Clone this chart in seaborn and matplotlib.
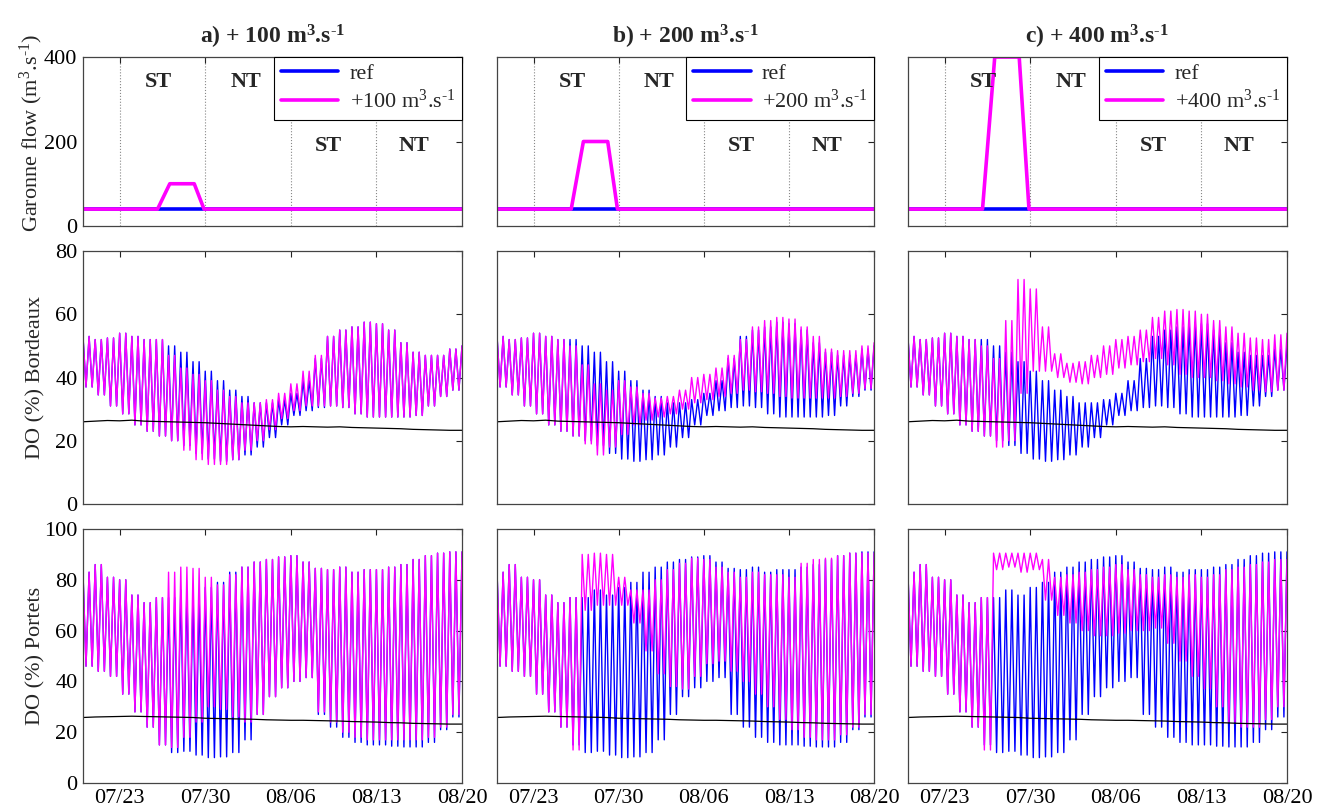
import matplotlib
matplotlib.use('Agg')
import numpy as np
import pandas as pd
import matplotlib.pyplot as plt
import seaborn as sns

# ---- data (day 0 = 07/20, day 31 = 08/20) ----
tick_days = [3, 10, 17, 24, 31]
tick_labels = ['07/23', '07/30', '08/06', '08/13', '08/20']

scenario_labels = ['a) + 100', 'b) + 200', 'c) + 400']
legend_labels = ['+100', '+200', '+400']

# Garonne flow (m3/s)
flow_days = [0, 6.1, 7.1, 9.1, 9.9, 31]
flow_ref = [40, 40, 40, 40, 40, 40]
flow_peaks = [100, 200, 400]

# Daily tidal highs / lows of DO (%) at Bordeaux
bx_ref_hi = [53, 52, 52.5, 54, 53, 52, 52, 50, 48, 45, 42, 39, 36, 34, 32, 32,
             33, 35, 39, 46, 53, 55, 56, 57.5, 57, 55, 51, 48, 47, 47, 49, 50]
bx_ref_lo = [37, 34.5, 31, 28.5, 25, 23, 21.5, 20, 18.5, 16, 14.2, 13.5, 14, 15.5, 18, 21,
             25, 28, 29.5, 30.5, 31, 30.5, 28.5, 27.5, 27.5, 27.5, 27.5, 28, 31, 34, 36, 37]
bx_a_hi = [53, 52, 52.5, 54, 53, 52, 52, 47, 43, 41, 39, 36, 34, 32, 32, 33,
           35, 38, 42, 47, 53, 55, 56, 57.5, 57, 55, 51, 48, 47, 47, 49, 50]
bx_a_lo = [37, 34.5, 31, 28.5, 25, 23, 21.5, 20, 17, 14, 12.5, 12.5, 14, 17, 20, 23.5,
           27, 29.5, 31, 31, 31, 30.5, 28.5, 27.5, 27.5, 27.5, 27.5, 28, 31, 34, 36, 37]
bx_b_hi = [53, 52, 52.5, 54, 53, 52, 50, 44, 38, 36, 39, 37, 35, 33.5, 34, 36,
           40, 41, 43, 47, 52, 56, 58, 59, 58.5, 56, 53, 49, 48.5, 48.5, 50, 51]
bx_b_lo = [37, 34.5, 31, 28.5, 25, 23, 21.5, 19, 15.5, 18, 22, 25, 26.5, 27.5, 28.5, 30,
           32, 33, 34, 35, 36, 35.5, 35, 34, 33.5, 33.5, 33.5, 33.5, 34, 35, 36.5, 37]
bx_c_hi = [53, 52, 52.5, 54, 53, 52, 50, 46, 58, 71, 68, 56, 47.5, 44.5, 45, 47,
           50, 52, 53, 55, 59, 61, 61.5, 61, 60, 58, 56, 54, 52.5, 52, 53.5, 54]
bx_c_lo = [37, 34.5, 31, 28.5, 25, 23, 21.5, 18, 20, 35, 42, 42, 40, 38.5, 38, 40,
           41, 43, 44, 45, 46, 44, 41, 40, 40, 39, 38, 37, 36, 35.5, 36, 38]
bx_black = [26, 26.2, 26.4, 26.3, 26.5, 26.2, 26.1, 26, 25.9, 25.8, 25.7, 25.5, 25.3, 25.1, 24.9, 24.7,
            24.5, 24.4, 24.5, 24.4, 24.3, 24.4, 24.2, 24.1, 24, 23.9, 23.8, 23.6, 23.5, 23.4, 23.3, 23.3]

# Daily tidal highs / lows of DO (%) at Portets
pt_ref_hi = [83, 86, 81, 80, 74, 71, 73, 73, 76, 74, 77, 79, 83, 85, 87, 88,
             89, 89.5, 87, 84.5, 84, 85, 83, 84, 84, 85, 86, 88, 89.5, 90.5, 91, 91]
pt_ref_lo = [46, 44, 42, 35, 28, 22, 15, 12, 12.5, 11, 10, 10.3, 12, 17, 27, 34,
             37.5, 40, 41.5, 27, 22, 18, 16, 15, 15, 14.5, 14.2, 14.2, 16, 21, 26, 32]
pt_a_hi = [83, 86, 81, 80, 74, 71, 73, 83, 85, 84.5, 81, 78, 82, 85, 87, 88,
           89, 89.5, 87, 84.5, 84, 85, 83, 84, 84, 85, 86, 88, 89.5, 90.5, 91, 91]
pt_a_lo = [46, 44, 42, 35, 28, 22, 15, 14, 18, 24, 30, 29, 26, 24, 27, 34,
           37.5, 40, 41.5, 28, 24, 20, 18, 17, 17, 17, 17, 17, 18, 22, 27, 32]
pt_b_hi = [83, 86, 81, 80, 74, 71, 73, 90, 90.5, 90, 81, 76, 76, 80, 84, 86.5,
           88.5, 88, 85, 83, 81, 83, 82, 82, 81, 86.5, 88, 88.5, 89.5, 90.5, 90.5, 90.5]
pt_b_lo = [46, 44, 42, 35, 28, 22, 13, 68, 70, 70, 70, 63, 52, 43, 38, 37,
           42, 47, 48, 44, 40, 35, 30, 25, 21, 18, 17, 17, 19, 22, 27, 32]
pt_c_hi = [83, 86, 81, 80, 74, 71, 73, 90.5, 90.5, 90.5, 90.5, 88, 81, 82, 83, 84,
           85, 86, 84, 82, 81, 82, 81, 82, 81, 82, 84, 85, 86, 87, 88, 88]
pt_c_lo = [46, 44, 42, 35, 28, 22, 13, 84, 85, 83, 84, 72, 66, 63, 60, 58,
           58, 59, 60, 60, 61, 55, 48, 42, 37, 30, 24, 22, 22, 25, 30, 36]
pt_black = [25.8, 26, 26.1, 26.2, 26.3, 26.2, 26.1, 26, 25.9, 25.8, 25.5, 25.4, 25.3, 25.2, 25.1, 24.9,
            24.8, 24.7, 24.7, 24.6, 24.5, 24.4, 24.2, 24.1, 24, 23.8, 23.7, 23.5, 23.4, 23.3, 23.2, 23.2]

BLUE = '#0000FF'
MAGENTA = '#FF00FF'
UNIT = r'm$^3$.s$^{\text{-}1}$'
UNIT_BF = r'm$^\mathbf{3}$.s$^{\mathbf{\text{-}1}}$'


def tide_frame(hi, lo):
    """Two tides per day, peak then trough"""
    rows = []
    for d, (h, l) in enumerate(zip(hi, lo)):
        for k in (0.0, 0.5):
            rows.append((d + k, h))
            rows.append((d + k + 0.25, l))
    return pd.DataFrame(rows, columns=['day', 'value'])


def style_axes(ax, ymax, yticks, show_x, show_y):
    ax.set_xlim(0, 31)
    ax.set_ylim(0, ymax)
    ax.set_xticks(tick_days)
    ax.set_xticklabels(tick_labels if show_x else [])
    ax.set_yticks(yticks)
    if not show_y:
        ax.set_yticklabels([])
    ax.tick_params(direction='in', top=True, right=True, length=4, width=0.8,
                   labelsize=16, colors='#222222', labelcolor='black', pad=4)
    ax.set_xlabel('')
    ax.set_ylabel('')
    for sp in ax.spines.values():
        sp.set_color('#444444')
        sp.set_linewidth(0.9)


sns.set_theme(style='white')
plt.rcParams['font.family'] = ['Liberation Serif', 'DejaVu Serif']
plt.rcParams['mathtext.fontset'] = 'custom'
plt.rcParams['mathtext.rm'] = 'Liberation Serif'
plt.rcParams['mathtext.it'] = 'Liberation Serif:italic'
plt.rcParams['mathtext.bf'] = 'Liberation Serif:bold'

fig = plt.figure(figsize=(13.17, 8.10), dpi=100)
lefts = [0.0630, 0.3774, 0.6894]
widths = [0.2878, 0.2863, 0.2878]
rows_pos = [(0.721, 0.2086), (0.3778, 0.3123), (0.0333, 0.3136)]

bx_scen = [(bx_a_hi, bx_a_lo), (bx_b_hi, bx_b_lo), (bx_c_hi, bx_c_lo)]
pt_scen = [(pt_a_hi, pt_a_lo), (pt_b_hi, pt_b_lo), (pt_c_hi, pt_c_lo)]

bx_ref = tide_frame(bx_ref_hi, bx_ref_lo)
pt_ref = tide_frame(pt_ref_hi, pt_ref_lo)
bx_blk = pd.DataFrame({'day': np.arange(len(bx_black)), 'value': bx_black})
pt_blk = pd.DataFrame({'day': np.arange(len(pt_black)), 'value': pt_black})

for j in range(3):
    # --- top row: Garonne flow ---
    ax = fig.add_axes([lefts[j], rows_pos[0][0], widths[j], rows_pos[0][1]])
    peak = flow_peaks[j]
    flow_scen = [flow_ref[0], flow_ref[1], peak, peak, flow_ref[4], flow_ref[5]]
    for dd in tick_days[:4]:
        ax.axvline(dd, color='#888888', ls=':', lw=0.8, zorder=0)
    sns.lineplot(x=flow_days, y=flow_ref, ax=ax, color=BLUE, lw=2.6,
                 label='ref', sort=False, estimator=None)
    sns.lineplot(x=flow_days, y=flow_scen, ax=ax, color=MAGENTA, lw=2.6,
                 label=legend_labels[j] + ' ' + UNIT, sort=False, estimator=None)
    for txt, xd, yv in [('ST', 6.2, 340), ('NT', 13.3, 340), ('ST', 20.1, 190), ('NT', 27.1, 190)]:
        ax.text(xd, yv, txt, ha='center', va='center', fontsize=16, fontweight='bold')
    style_axes(ax, 400, [0, 200, 400], False, j == 0)
    leg = ax.legend(loc='upper right', borderaxespad=0, fancybox=False, framealpha=1,
                    edgecolor='black', fontsize=16, handlelength=2.6, borderpad=0.3,
                    labelspacing=0.25, handletextpad=0.5)
    leg.get_frame().set_linewidth(0.8)
    ax.set_title(scenario_labels[j] + ' ' + UNIT_BF, fontsize=17, fontweight='bold', pad=10)
    if j == 0:
        ax.set_ylabel('Garonne flow (' + UNIT + ')', fontsize=16)
        ax.yaxis.set_label_coords(-0.1, 0.55)

    # --- middle row: DO at Bordeaux ---
    ax = fig.add_axes([lefts[j], rows_pos[1][0], widths[j], rows_pos[1][1]])
    hi, lo = bx_scen[j]
    sns.lineplot(data=bx_ref, x='day', y='value', ax=ax, color=BLUE, lw=1.0,
                 sort=False, estimator=None)
    sns.lineplot(data=tide_frame(hi, lo), x='day', y='value', ax=ax, color=MAGENTA,
                 lw=1.0, sort=False, estimator=None)
    sns.lineplot(data=bx_blk, x='day', y='value', ax=ax, color='black', lw=0.9,
                 sort=False, estimator=None)
    style_axes(ax, 80, [0, 20, 40, 60, 80], False, j == 0)
    if j == 0:
        ax.set_ylabel('DO (%) Bordeaux', fontsize=16)
        ax.yaxis.set_label_coords(-0.1, 0.5)

    # --- bottom row: DO at Portets ---
    ax = fig.add_axes([lefts[j], rows_pos[2][0], widths[j], rows_pos[2][1]])
    hi, lo = pt_scen[j]
    sns.lineplot(data=pt_ref, x='day', y='value', ax=ax, color=BLUE, lw=1.0,
                 sort=False, estimator=None)
    sns.lineplot(data=tide_frame(hi, lo), x='day', y='value', ax=ax, color=MAGENTA,
                 lw=1.0, sort=False, estimator=None)
    sns.lineplot(data=pt_blk, x='day', y='value', ax=ax, color='black', lw=0.9,
                 sort=False, estimator=None)
    style_axes(ax, 100, [0, 20, 40, 60, 80, 100], True, j == 0)
    if j == 0:
        ax.set_ylabel('DO (%) Portets', fontsize=16)
        ax.yaxis.set_label_coords(-0.1, 0.5)

fig.savefig('out.png', dpi=100, facecolor='white')
